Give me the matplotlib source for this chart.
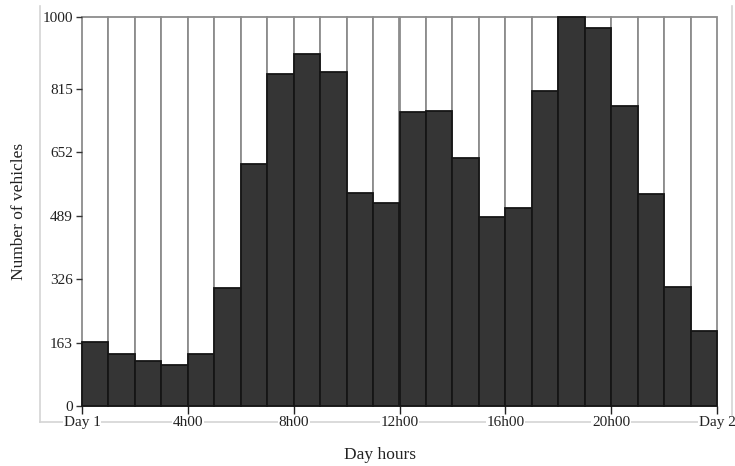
import matplotlib
matplotlib.use("Agg")
import matplotlib.pyplot as plt
from matplotlib.lines import Line2D

# vehicles counted per hour of the day
hours = list(range(24))
vehicles = [165, 133, 116, 106, 133, 303, 622, 853, 905, 859, 548, 523,
            755, 758, 638, 486, 508, 810, 1000, 973, 771, 544, 307, 192]
capacity = [1000] * 24

yticks = [0, 163, 326, 489, 652, 815, 1000]
xticks = [0, 4, 8, 12, 16, 20, 24]
xlabels = ["Day 1", "4h00", "8h00", "12h00", "16h00", "20h00", "Day 2"]

plt.rcParams['font.family'] = ['Liberation Serif', 'DejaVu Serif']

W, H = 735, 466
fig = plt.figure(figsize=(W / 100, H / 100), dpi=100)
ax = fig.add_axes([82 / W, 1 - 406 / H, (717 - 82) / W, (406 - 17) / H])

ax.bar(hours, capacity, width=1, align='edge', color='white',
       edgecolor='#8c8c8c', linewidth=1.3, clip_on=False, zorder=1)
ax.bar(hours, vehicles, width=1, align='edge', color='#353535',
       edgecolor='#151515', linewidth=1.3, clip_on=False, zorder=2)

ax.set_xlim(0, 24)
ax.set_ylim(0, 1000)
for s in ax.spines.values():
    s.set_visible(False)

ax.set_yticks(yticks)
ax.set_yticklabels([str(v) for v in yticks])
ax.set_xticks(xticks)
ax.set_xticklabels(xlabels)
ax.tick_params(axis='y', length=4.5, width=1, color='#333333', pad=2,
               labelsize=11, labelcolor='#222222')
ax.tick_params(axis='x', length=5.5, width=1, color='#222222', pad=2,
               labelsize=11, labelcolor='#222222')
for t in ax.get_xticklabels():
    t.set_bbox(dict(facecolor='white', edgecolor='none', pad=0.5))

# light gray frame around the plot
gray = '#d4d4d4'
fig.add_artist(Line2D([40 / W, 40 / W], [1 - 6 / H, 1 - 422 / H], color=gray, lw=1.2, zorder=-1))
fig.add_artist(Line2D([40 / W, 731.5 / W], [1 - 422 / H, 1 - 422 / H], color=gray, lw=1.2, zorder=-1))
fig.add_artist(Line2D([731.5 / W, 731.5 / W], [1 - 6 / H, 1 - 422 / H], color=gray, lw=1.2, zorder=-1))

fig.text(380 / W, 1 - 455 / H, "Day hours", ha='center', va='center',
         fontsize=12.5, color='#222222')
fig.text(19 / W, 1 - 211 / H, "Number of vehicles", ha='center', va='center',
         rotation=90, fontsize=12.5, color='#222222')

fig.savefig("out.png", dpi=100)
